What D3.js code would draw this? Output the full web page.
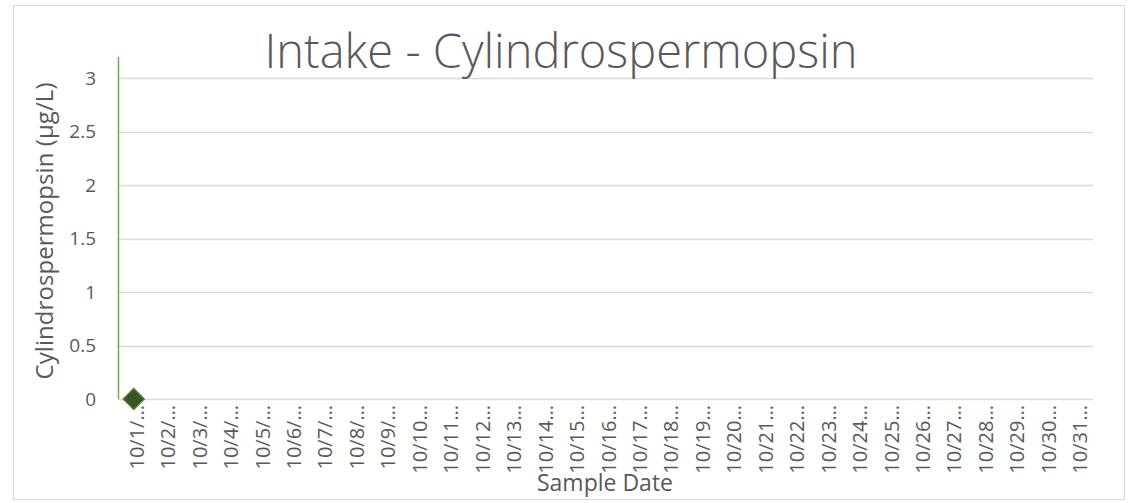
<!DOCTYPE html>
<html>
<head>
<meta charset="utf-8">
<script src="https://cdn.jsdelivr.net/npm/d3@7"></script>
<style>
  body { margin: 0; background: #fff; }
  text { font-family: "Open Sans", "Noto Sans", sans-serif; fill: #595959; }
</style>
</head>
<body>
<div id="chart"></div>
<script>
// ---- DATA ----------------------------------------------------------
var dates = ["10/1/…", "10/2/…", "10/3/…", "10/4/…", "10/5/…", "10/6/…", "10/7/…", "10/8/…",
  "10/9/…", "10/10…", "10/11…", "10/12…", "10/13…", "10/14…", "10/15…", "10/16…", "10/17…",
  "10/18…", "10/19…", "10/20…", "10/21…", "10/22…", "10/23…", "10/24…", "10/25…", "10/26…",
  "10/27…", "10/28…", "10/29…", "10/30…", "10/31…"];
// only the first sample has a result
var values = [0];
var yTicks = [0, 0.5, 1, 1.5, 2, 2.5, 3];
var yMax = 3.2;

// ---- VARIABLES -----------------------------------------------------
var w = 1128;
var h = 503;
var plot = { left: 118, right: 1093, top: 57, bottom: 399 };

var svg = d3.select("#chart")
  .append("svg")
  .attr("width", w)
  .attr("height", h);

// outer frame
svg.append("rect")
  .attr("x", 13.5).attr("y", 5.5)
  .attr("width", 1111).attr("height", 494)
  .attr("fill", "white")
  .attr("stroke", "#d9d9d9");

// ---- SCALES --------------------------------------------------------
var xScale = d3.scaleBand()
  .domain(dates)
  .range([plot.left, plot.right]);

var yScale = d3.scaleLinear()
  .domain([0, yMax])
  .range([plot.bottom, plot.top]);

// gridlines
svg.append("g")
  .selectAll("line")
  .data(yTicks)
  .enter()
  .append("line")
  .attr("x1", plot.left)
  .attr("x2", plot.right)
  .attr("y1", function(d) { return Math.round(yScale(d)) + 0.5; })
  .attr("y2", function(d) { return Math.round(yScale(d)) + 0.5; })
  .attr("stroke", "#d9d9d9")
  .attr("stroke-width", 1.3);

// y axis labels
var yAxis = d3.axisLeft(yScale)
  .tickValues(yTicks)
  .tickFormat(d3.format("~g"))
  .tickSize(0)
  .tickPadding(0);
var gy = svg.append("g")
  .attr("transform", "translate(" + (plot.left - 22) + ",0)")
  .call(yAxis)
  .attr("font-size", 19)
  .attr("font-family", "Open Sans");
gy.select(".domain").remove();
gy.selectAll("text")
  .attr("fill", "#595959");

// green vertical axis line
svg.append("line")
  .attr("x1", plot.left + 0.5).attr("x2", plot.left + 0.5)
  .attr("y1", plot.top).attr("y2", plot.bottom)
  .attr("stroke", "#70ad47")
  .attr("stroke-width", 1.5);

// x axis labels
var xAxis = d3.axisBottom(xScale).tickSize(0).tickPadding(0);
var gx = svg.append("g")
  .attr("transform", "translate(0," + plot.bottom + ")")
  .call(xAxis)
  .attr("font-size", 20)
  .attr("font-family", "Open Sans");
gx.select(".domain").remove();
gx.selectAll("text")
  .attr("fill", "#595959")
  .attr("text-anchor", "end")
  .attr("dy", null)
  .attr("y", 0)
  .attr("transform", "translate(10,6) rotate(-90)");

// marker
svg.append("g")
  .selectAll("path")
  .data(values)
  .enter()
  .append("path")
  .attr("d", d3.symbol().type(d3.symbolDiamond2).size(280))
  .attr("transform", function(d, i) {
    return "translate(" + (xScale(dates[i]) + xScale.bandwidth() / 2) + "," + yScale(d) + ")";
  })
  .attr("fill", "#375623")
  .attr("stroke", "#548235")
  .attr("stroke-width", 1.5);

// ---- TITLES --------------------------------------------------------
svg.append("text")
  .attr("x", 561)
  .attr("y", 68)
  .attr("text-anchor", "middle")
  .attr("font-size", 47)
  .attr("font-weight", 300)
  .text("Intake - Cylindrospermopsin");

svg.append("text")
  .attr("transform", "translate(53," + 231 + ") rotate(-90)")
  .attr("text-anchor", "middle")
  .attr("font-size", 24)
  .attr("textLength", 297)
  .text("Cylindrospermopsin (µg/L)");

svg.append("text")
  .attr("x", 605)
  .attr("y", 491)
  .attr("text-anchor", "middle")
  .attr("font-size", 23)
  .text("Sample Date");
</script>
</body>
</html>
